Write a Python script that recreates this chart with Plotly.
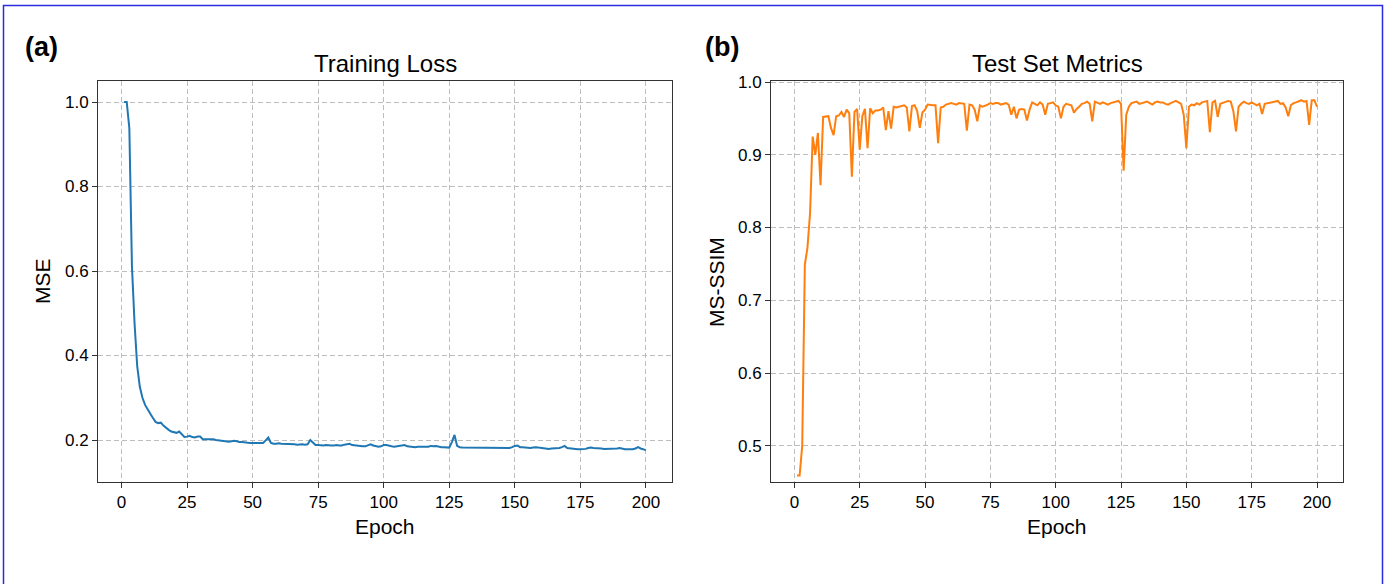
import plotly.graph_objects as go

epochs = list(range(1, 201))

train_mse = [
    1.000, 1.000, 0.938, 0.610, 0.475, 0.375, 0.326, 0.300, 0.283, 0.271,
    0.262, 0.252, 0.243, 0.240, 0.241, 0.234, 0.228, 0.224, 0.220, 0.218,
    0.217, 0.220, 0.213, 0.207, 0.208, 0.210, 0.207, 0.206, 0.208, 0.208,
    0.202, 0.202, 0.201, 0.201, 0.202, 0.200, 0.199, 0.198, 0.197, 0.196,
    0.196, 0.197, 0.198, 0.197, 0.195, 0.195, 0.194, 0.194, 0.193, 0.193,
    0.193, 0.193, 0.192, 0.193, 0.199, 0.206, 0.193, 0.191, 0.191, 0.192,
    0.191, 0.191, 0.190, 0.191, 0.190, 0.190, 0.189, 0.190, 0.190, 0.189,
    0.190, 0.200, 0.193, 0.188, 0.188, 0.187, 0.187, 0.188, 0.187, 0.187,
    0.187, 0.188, 0.187, 0.187, 0.189, 0.190, 0.191, 0.188, 0.187, 0.186,
    0.186, 0.185, 0.185, 0.187, 0.190, 0.187, 0.185, 0.184, 0.185, 0.188,
    0.188, 0.186, 0.185, 0.184, 0.185, 0.186, 0.187, 0.188, 0.185, 0.184,
    0.183, 0.183, 0.184, 0.184, 0.184, 0.184, 0.184, 0.186, 0.185, 0.186,
    0.184, 0.183, 0.183, 0.183, 0.182, 0.195, 0.212, 0.186, 0.183, 0.182,
    0.182, 0.182, 0.182, 0.181, 0.181, 0.181, 0.181, 0.181, 0.182, 0.182,
    0.182, 0.181, 0.182, 0.182, 0.181, 0.181, 0.181, 0.181, 0.183, 0.186,
    0.187, 0.183, 0.183, 0.182, 0.182, 0.181, 0.182, 0.183, 0.182, 0.181,
    0.180, 0.179, 0.179, 0.180, 0.180, 0.180, 0.181, 0.183, 0.186, 0.181,
    0.180, 0.179, 0.179, 0.178, 0.178, 0.178, 0.179, 0.181, 0.182, 0.181,
    0.181, 0.180, 0.180, 0.179, 0.179, 0.180, 0.179, 0.179, 0.180, 0.181,
    0.179, 0.178, 0.178, 0.178, 0.178, 0.180, 0.183, 0.180, 0.178, 0.176,
]

test_ms_ssim = [
    0.459, 0.459, 0.500, 0.749, 0.772, 0.820, 0.925, 0.900, 0.930, 0.858,
    0.952, 0.952, 0.953, 0.937, 0.927, 0.953, 0.954, 0.959, 0.952, 0.962,
    0.957, 0.870, 0.959, 0.963, 0.907, 0.953, 0.963, 0.909, 0.964, 0.957,
    0.961, 0.961, 0.962, 0.965, 0.934, 0.960, 0.936, 0.966, 0.965, 0.966,
    0.967, 0.968, 0.965, 0.932, 0.967, 0.968, 0.960, 0.937, 0.958, 0.962,
    0.969, 0.968, 0.968, 0.968, 0.916, 0.965, 0.966, 0.969, 0.970, 0.971,
    0.970, 0.969, 0.971, 0.970, 0.970, 0.933, 0.969, 0.968, 0.962, 0.946,
    0.968, 0.966, 0.967, 0.969, 0.971, 0.970, 0.971, 0.971, 0.969, 0.970,
    0.971, 0.969, 0.955, 0.966, 0.950, 0.962, 0.963, 0.962, 0.947, 0.962,
    0.972, 0.970, 0.968, 0.972, 0.969, 0.955, 0.970, 0.971, 0.972, 0.968,
    0.966, 0.950, 0.966, 0.970, 0.969, 0.968, 0.958, 0.963, 0.966, 0.970,
    0.971, 0.973, 0.970, 0.946, 0.973, 0.972, 0.970, 0.972, 0.971, 0.969,
    0.971, 0.972, 0.973, 0.974, 0.970, 0.878, 0.955, 0.966, 0.971, 0.972,
    0.973, 0.970, 0.971, 0.972, 0.973, 0.971, 0.969, 0.972, 0.973, 0.972,
    0.972, 0.970, 0.969, 0.971, 0.973, 0.974, 0.972, 0.970, 0.955, 0.909,
    0.966, 0.969, 0.968, 0.971, 0.969, 0.972, 0.973, 0.974, 0.931, 0.972,
    0.974, 0.952, 0.970, 0.971, 0.973, 0.974, 0.973, 0.960, 0.932, 0.966,
    0.970, 0.973, 0.971, 0.970, 0.972, 0.970, 0.968, 0.970, 0.956, 0.970,
    0.971, 0.971, 0.972, 0.973, 0.974, 0.970, 0.971, 0.965, 0.953, 0.968,
    0.971, 0.972, 0.973, 0.975, 0.973, 0.974, 0.941, 0.975, 0.975, 0.966,
]

x_ticks = [0, 25, 50, 75, 100, 125, 150, 175, 200]
mse_ticks = [0.2, 0.4, 0.6, 0.8, 1.0]
ssim_ticks = [0.5, 0.6, 0.7, 0.8, 0.9, 1.0]

W, H = 1391, 584
FONT = "Liberation Sans, Arial, sans-serif"

def px_x(p):
    return p / W

def px_y(p):
    return (H - p) / H

fig = go.Figure()
fig.add_trace(go.Scatter(x=epochs, y=train_mse, mode="lines",
                         line=dict(color="#1f77b4", width=2),
                         xaxis="x", yaxis="y", showlegend=False))
fig.add_trace(go.Scatter(x=epochs, y=test_ms_ssim, mode="lines",
                         line=dict(color="#ff7f0e", width=2),
                         xaxis="x2", yaxis="y2", showlegend=False))

axis_common = dict(
    showline=True, mirror=True, linecolor="#333333", linewidth=1,
    ticks="outside", ticklen=5, tickwidth=1, tickcolor="#333333",
    showgrid=True, gridcolor="#bdbdbd", gridwidth=1, griddash="5px,3px",
    zeroline=False, automargin=False,
    tickfont=dict(family=FONT, size=17, color="black"),
)

ydom = [px_y(482), px_y(81)]

fig.update_layout(
    template="none",
    width=W, height=H,
    margin=dict(l=0, r=0, t=0, b=0, pad=0, autoexpand=False),
    paper_bgcolor="white", plot_bgcolor="white",
    font=dict(family=FONT, color="black"),
    xaxis=dict(domain=[px_x(98), px_x(672)], range=[-8.95, 209.95],
               tickvals=x_ticks, anchor="y", **axis_common),
    yaxis=dict(domain=ydom, range=[0.1006, 1.0497], tickvals=mse_ticks,
               tickformat=".1f", anchor="x", **axis_common),
    xaxis2=dict(domain=[px_x(771), px_x(1343)], range=[-8.95, 209.95],
                tickvals=x_ticks, anchor="y2", **axis_common),
    yaxis2=dict(domain=ydom, range=[0.4502, 1.0014], tickvals=ssim_ticks,
                tickformat=".1f", anchor="x2", **axis_common),
)

annos = [
    dict(text="<b>(a)</b>", x=px_x(23), y=px_y(47), xanchor="left", yanchor="middle", size=27),
    dict(text="<b>(b)</b>", x=px_x(703), y=px_y(47), xanchor="left", yanchor="middle", size=27),
    dict(text="Training Loss", x=px_x(385), y=px_y(63), xanchor="center", yanchor="middle", size=24),
    dict(text="Test Set Metrics", x=px_x(1057), y=px_y(63), xanchor="center", yanchor="middle", size=24),
    dict(text="Epoch", x=px_x(385), y=px_y(526), xanchor="center", yanchor="middle", size=21),
    dict(text="Epoch", x=px_x(1057), y=px_y(526), xanchor="center", yanchor="middle", size=21),
    dict(text="MSE", x=px_x(42), y=px_y(281), xanchor="center", yanchor="middle", size=21, angle=-90),
    dict(text="MS-SSIM", x=px_x(716), y=px_y(282), xanchor="center", yanchor="middle", size=21, angle=-90),
]
for a in annos:
    fig.add_annotation(text=a["text"], x=a["x"], y=a["y"], xref="paper", yref="paper",
                       xanchor=a["xanchor"], yanchor=a["yanchor"], showarrow=False,
                       textangle=a.get("angle", 0),
                       font=dict(family=FONT, size=a["size"], color="black"))

fig.add_shape(type="rect", xref="paper", yref="paper",
              x0=px_x(3.5), x1=px_x(1382.5), y0=-0.2, y1=px_y(5.5),
              line=dict(color="#2b2be0", width=1.5), fillcolor="rgba(0,0,0,0)")

fig.write_html("out.html")
